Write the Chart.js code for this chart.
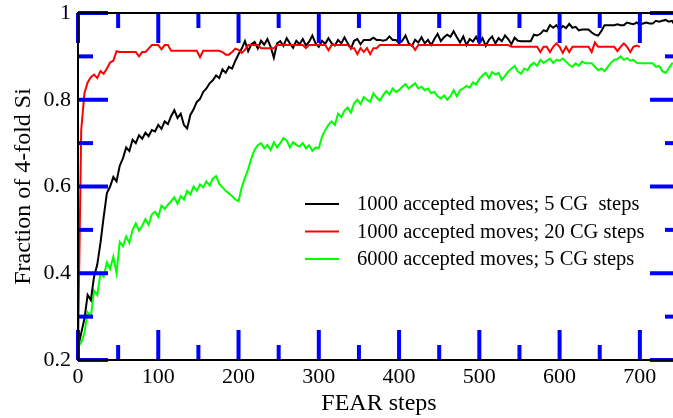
<!DOCTYPE html>
<html>
<head>
<meta charset="utf-8">
<script src="https://cdn.jsdelivr.net/npm/chart.js@4/dist/chart.umd.min.js"></script>
<style>
  html, body { margin: 0; padding: 0; background: #fff; overflow: hidden; }
  canvas { display: block; }
</style>
</head>
<body>
<canvas id="frac" width="690" height="418"></canvas>
<script>
// FEAR runs, fraction of 4-fold coordinated Si, sampled every 4 steps from step 0
const STEP = 4;

const blackFrac = [
  0.23, 0.262, 0.295, 0.35, 0.338, 0.392, 0.42, 0.47, 0.53, 0.585,
  0.6, 0.622, 0.612, 0.648, 0.665, 0.69, 0.682, 0.708, 0.7, 0.718,
  0.71, 0.724, 0.716, 0.73, 0.727, 0.742, 0.733, 0.75, 0.744, 0.762,
  0.776, 0.758, 0.768, 0.742, 0.734, 0.765, 0.778, 0.795, 0.802, 0.818,
  0.826, 0.838, 0.845, 0.856, 0.85, 0.87, 0.862, 0.876, 0.872, 0.89,
  0.905, 0.918, 0.935, 0.912, 0.928, 0.933, 0.918, 0.936, 0.927, 0.94,
  0.922, 0.897, 0.93, 0.935, 0.924, 0.942, 0.93, 0.92, 0.936, 0.928,
  0.94, 0.925, 0.934, 0.948, 0.93, 0.922, 0.936, 0.929, 0.942, 0.93,
  0.925, 0.938, 0.93, 0.944, 0.93, 0.918, 0.936, 0.94, 0.928, 0.938,
  0.938, 0.938, 0.943, 0.938, 0.938, 0.936, 0.938, 0.946, 0.938, 0.938,
  0.93, 0.936, 0.948, 0.93, 0.924, 0.938, 0.932, 0.944, 0.93, 0.938,
  0.926, 0.94, 0.952, 0.935, 0.944, 0.95, 0.945, 0.958, 0.944, 0.932,
  0.946, 0.926, 0.94, 0.934, 0.945, 0.93, 0.942, 0.924, 0.938, 0.946,
  0.93, 0.942, 0.935, 0.948, 0.94, 0.928, 0.943, 0.936, 0.935, 0.935,
  0.935, 0.935, 0.95, 0.948, 0.952, 0.96, 0.958, 0.972, 0.966, 0.972,
  0.962, 0.97, 0.965, 0.975, 0.966, 0.968, 0.96, 0.962, 0.962, 0.962,
  0.955, 0.95, 0.948, 0.958, 0.972, 0.972, 0.972, 0.972, 0.974, 0.972,
  0.972, 0.978, 0.976, 0.974, 0.978, 0.972, 0.976, 0.978, 0.976, 0.976,
  0.982, 0.98, 0.982, 0.984, 0.98, 0.982, 0.97, 0.98
];

const redFrac = [
  0.22, 0.73, 0.815, 0.84, 0.852, 0.858, 0.85, 0.866, 0.86, 0.872,
  0.886, 0.89, 0.912, 0.91, 0.91, 0.91, 0.91, 0.91, 0.91, 0.9,
  0.91, 0.91, 0.918, 0.926, 0.926, 0.926, 0.916, 0.926, 0.926, 0.913,
  0.913, 0.913, 0.913, 0.913, 0.913, 0.913, 0.913, 0.913, 0.898, 0.913,
  0.913, 0.913, 0.913, 0.913, 0.913, 0.91, 0.904, 0.904, 0.91, 0.918,
  0.915, 0.908, 0.915, 0.926, 0.926, 0.926, 0.926, 0.919, 0.919, 0.919,
  0.919, 0.919, 0.926, 0.926, 0.926, 0.926, 0.926, 0.926, 0.926, 0.926,
  0.926, 0.919, 0.926, 0.926, 0.926, 0.926, 0.926, 0.926, 0.914, 0.926,
  0.926, 0.926, 0.926, 0.926, 0.926, 0.919, 0.919, 0.905, 0.919, 0.91,
  0.919, 0.905, 0.919, 0.919, 0.926, 0.926, 0.926, 0.926, 0.926, 0.926,
  0.926, 0.926, 0.926, 0.926, 0.926, 0.915, 0.926, 0.926, 0.926, 0.926,
  0.926, 0.926, 0.926, 0.926, 0.926, 0.926, 0.926, 0.926, 0.926, 0.926,
  0.926, 0.926, 0.926, 0.926, 0.926, 0.926, 0.926, 0.926, 0.926, 0.926,
  0.926, 0.926, 0.926, 0.926, 0.926, 0.922, 0.922, 0.922, 0.922, 0.922,
  0.922, 0.922, 0.922, 0.922, 0.91, 0.922, 0.922, 0.91, 0.922, 0.93,
  0.922, 0.908, 0.922, 0.91, 0.922, 0.922, 0.922, 0.922, 0.922, 0.922,
  0.91, 0.932, 0.922, 0.922, 0.922, 0.922, 0.922, 0.922, 0.912, 0.922,
  0.93, 0.922, 0.91, 0.922, 0.925, 0.922
];

const greenFrac = [
  0.23, 0.24, 0.262, 0.31, 0.3, 0.36, 0.35, 0.4, 0.392, 0.425,
  0.41, 0.438, 0.4, 0.472, 0.462, 0.485, 0.47, 0.5, 0.515, 0.498,
  0.51, 0.525, 0.512, 0.536, 0.542, 0.53, 0.556, 0.548, 0.558, 0.566,
  0.575, 0.56, 0.578, 0.57, 0.59, 0.582, 0.6, 0.59, 0.605, 0.598,
  0.612, 0.602, 0.618, 0.624, 0.606, 0.598, 0.59, 0.584, 0.578, 0.57,
  0.566, 0.598, 0.62, 0.64, 0.665, 0.685, 0.695, 0.7, 0.688, 0.696,
  0.684, 0.702, 0.69, 0.7, 0.712, 0.706, 0.69, 0.702, 0.696, 0.692,
  0.7, 0.688, 0.695, 0.682, 0.69, 0.688, 0.715, 0.73, 0.742, 0.75,
  0.742, 0.768, 0.76, 0.775, 0.782, 0.77, 0.792, 0.8, 0.79, 0.806,
  0.8, 0.795, 0.815, 0.805, 0.798, 0.81, 0.82, 0.812, 0.826, 0.818,
  0.822, 0.83, 0.836, 0.826, 0.832, 0.838, 0.826, 0.83, 0.822, 0.826,
  0.815, 0.818, 0.808, 0.803, 0.81, 0.8, 0.808, 0.822, 0.808, 0.822,
  0.826, 0.832, 0.828, 0.84, 0.835, 0.848, 0.856, 0.862, 0.85, 0.864,
  0.858, 0.862, 0.846, 0.855, 0.865, 0.872, 0.878, 0.865, 0.86, 0.872,
  0.868, 0.88, 0.885, 0.878, 0.892, 0.885, 0.89, 0.895, 0.885, 0.892,
  0.89, 0.895, 0.888, 0.88, 0.876, 0.884, 0.878, 0.888, 0.884, 0.884,
  0.884, 0.876, 0.868, 0.872, 0.866, 0.876, 0.885, 0.892, 0.894, 0.9,
  0.892, 0.896, 0.89, 0.892, 0.885, 0.884, 0.884, 0.884, 0.884, 0.884,
  0.876, 0.878, 0.866, 0.862, 0.872, 0.884, 0.882, 0.886
];

const seriesLabels = [
  '1000 accepted moves; 5 CG  steps',
  '1000 accepted moves; 20 CG steps',
  '6000 accepted moves; 5 CG steps'
];
const seriesColors = ['#000000', '#ff0000', '#00ff00'];

const xTicks = [0, 100, 200, 300, 400, 500, 600, 700];
const yTicks = [0.2, 0.4, 0.6, 0.8, 1];
const xMinorTicks = [0, 50, 100, 150, 200, 250, 300, 350, 400, 450, 500, 550, 600, 650, 700, 750];
const yMinorTicks = [0.2, 0.3, 0.4, 0.5, 0.6, 0.7, 0.8, 0.9, 1];
const X_MIN = 0, X_MAX = 750;
const Y_MIN = 0.2, Y_MAX = 1;

const toPoints = arr => arr.map((v, i) => ({ x: i * STEP, y: v }));
const serif = "'Liberation Serif', 'Times New Roman', serif";

// tick marks pointing into the plot on all four sides
const tickPlugin = {
  id: 'inwardTicks',
  afterDraw(chart) {
    const ctx = chart.ctx;
    const a = chart.chartArea;
    const w = a.right - a.left, h = a.bottom - a.top;
    ctx.save();
    ctx.fillStyle = '#0000ff';
    xMinorTicks.forEach(v => {
      const px = a.left + (v - X_MIN) / (X_MAX - X_MIN) * w;
      const len = xTicks.indexOf(v) >= 0 ? 30 : 15;
      ctx.fillRect(px - 2, a.bottom - len, 4, len);
      ctx.fillRect(px - 2, a.top, 4, len);
    });
    yMinorTicks.forEach(v => {
      const py = a.bottom - (v - Y_MIN) / (Y_MAX - Y_MIN) * h;
      const major = yTicks.some(t => Math.abs(t - v) < 1e-6);
      const len = major ? 30 : 15;
      ctx.fillRect(a.left, py - 2, len, 4);
      ctx.fillRect(a.right - len, py - 2, len, 4);
    });
    ctx.restore();
  }
};

// plot frame and the legend inside the plot
const framePlugin = {
  id: 'frame',
  afterDraw(chart) {
    const ctx = chart.ctx;
    const a = chart.chartArea;
    ctx.save();
    ctx.strokeStyle = '#000000';
    ctx.lineWidth = 2;
    ctx.strokeRect(a.left, a.top, a.right - a.left, a.bottom - a.top);

    ctx.font = '20.5px ' + serif;
    ctx.textBaseline = 'middle';
    ctx.textAlign = 'left';
    chart.data.datasets.forEach((ds, i) => {
      const ly = 204 + i * 27.5;
      ctx.strokeStyle = ds.borderColor;
      ctx.beginPath();
      ctx.moveTo(305, ly);
      ctx.lineTo(339, ly);
      ctx.stroke();
      ctx.fillStyle = '#000000';
      ctx.fillText(ds.label, 357, ly + 1);
    });
    ctx.restore();
  }
};

new Chart(document.getElementById('frac'), {
  type: 'line',
  data: {
    datasets: [
      { label: seriesLabels[0], data: toPoints(blackFrac), borderColor: seriesColors[0], order: 2 },
      { label: seriesLabels[1], data: toPoints(redFrac), borderColor: seriesColors[1], order: 1 },
      { label: seriesLabels[2], data: toPoints(greenFrac), borderColor: seriesColors[2], order: 3 }
    ]
  },
  options: {
    responsive: false,
    animation: false,
    events: [],
    layout: { padding: { top: 13, right: 10, left: 0, bottom: 0 } },
    elements: {
      line: { borderWidth: 2, tension: 0, fill: false },
      point: { radius: 0 }
    },
    plugins: { legend: { display: false }, tooltip: { enabled: false } },
    scales: {
      x: {
        type: 'linear',
        min: X_MIN,
        max: X_MAX,
        afterFit: s => { s.height = 58; },
        afterBuildTicks: s => { s.ticks = xTicks.map(v => ({ value: v })); },
        grid: { display: false, drawTicks: false },
        border: { display: false },
        ticks: { padding: 4, maxRotation: 0, color: '#000', font: { family: serif, size: 22 } },
        title: {
          display: true, text: 'FEAR steps', color: '#000',
          font: { family: serif, size: 24 }, padding: { top: 0, bottom: 0 }
        }
      },
      y: {
        min: Y_MIN,
        max: Y_MAX,
        afterFit: s => { s.width = 78; s.paddingTop = 0; s.paddingBottom = 0; },
        afterBuildTicks: s => { s.ticks = yTicks.map(v => ({ value: v })); },
        grid: { display: false, drawTicks: false },
        border: { display: false },
        ticks: {
          padding: 7, color: '#000', font: { family: serif, size: 22 },
          callback: v => String(+v.toFixed(1))
        },
        title: {
          display: true, text: 'Fraction of 4-fold Si', color: '#000',
          font: { family: serif, size: 24 }, padding: { top: 9, bottom: 0 }
        }
      }
    }
  },
  plugins: [tickPlugin, framePlugin]
});
</script>
</body>
</html>
